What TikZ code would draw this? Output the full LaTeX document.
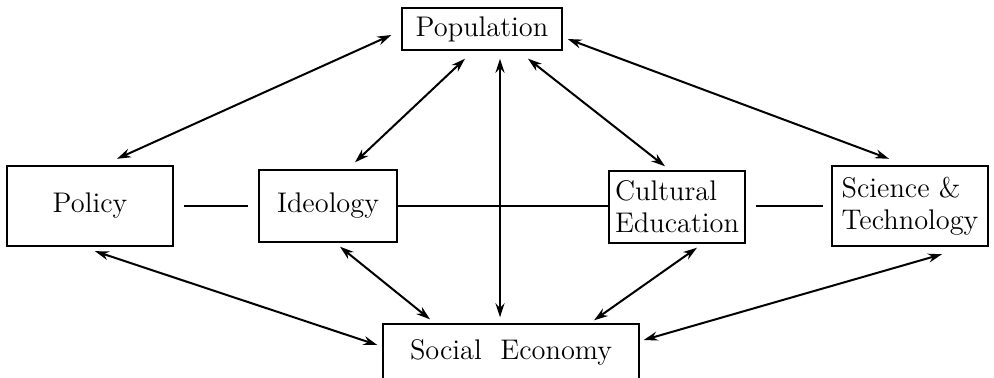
\documentclass[tikz,border=0pt]{standalone}
\usepackage{tikz}
\usetikzlibrary{arrows.meta}
\tikzset{
  box/.style={draw, line width=0.7pt, inner sep=0pt, font=\fontsize{14.2}{16}\selectfont},
  link/.style={line width=0.7pt},
  twoway/.style={line width=1pt, {Stealth[length=7pt,width=4.5pt]}-{Stealth[length=7pt,width=4.5pt]}}
}

\begin{document}
\begin{tikzpicture}[x=0.5pt, y=-0.5pt]
			%%%%% START %%%%%
			\useasboundingbox (0, 0) rectangle (994, 377);
			\clip (0, 0) rectangle (994, 377);
			
			\node[box, minimum width=80pt, minimum height=21pt] (pop) at (482, 29) {Population};
			\node[box, minimum width=83pt, minimum height=40pt] (policy) at (90, 206) {Policy};
			\node[box, minimum width=69pt, minimum height=36pt] (ideo) at (328, 206) {Ideology};
			\node[box, minimum width=68pt, minimum height=36pt, align=left] (cult) at (677, 207) {Cultural\\Education};
			\node[box, minimum width=78pt, minimum height=40pt, align=left] (sci) at (910, 206) {Science \&\\Technology};
			\node[box, minimum width=128pt, minimum height=28pt] (soc) at (511, 352) {Social\ \ Economy};
			
			% plain links in the middle row
			\draw[link] ([xshift=5]policy.east) -- ([xshift=-5]ideo.west);
			\draw[link] (ideo.east) -- (cult.west |- ideo.east);
			\draw[link] ([xshift=5]cult.east |- sci.west) -- ([xshift=-4]sci.west);
			
			% population to the rest
			\draw[twoway] ([shift={(-10,6)}]pop.west) -- ([shift={(27,-6.5)}]policy.north);
			\draw[twoway] ([shift={(-17,8)}]pop.south) -- ([shift={(27,-7)}]ideo.north);
			\draw[twoway] ([shift={(18,8)}]pop.south) -- ([shift={(-11,-6)}]soc.north);
			\draw[twoway] ([shift={(46,8)}]pop.south) -- ([shift={(-12,-4)}]cult.north);
			\draw[twoway] ([shift={(5,10)}]pop.east) -- ([shift={(-21,-6.5)}]sci.north);
			
			% social economy to the rest
			\draw[twoway] ([shift={(5,4.5)}]policy.south) -- ([shift={(-5,-7)}]soc.west);
			\draw[twoway] ([shift={(12,4)}]ideo.south) -- ([shift={(-81,-4)}]soc.north);
			\draw[twoway] ([shift={(20,4)}]cult.south) -- ([shift={(83,-3)}]soc.north);
			\draw[twoway] ([shift={(32,7.5)}]sci.south) -- ([shift={(4,-12)}]soc.east);
			
			%%%%% END %%%%%
\end{tikzpicture}
\end{document}
